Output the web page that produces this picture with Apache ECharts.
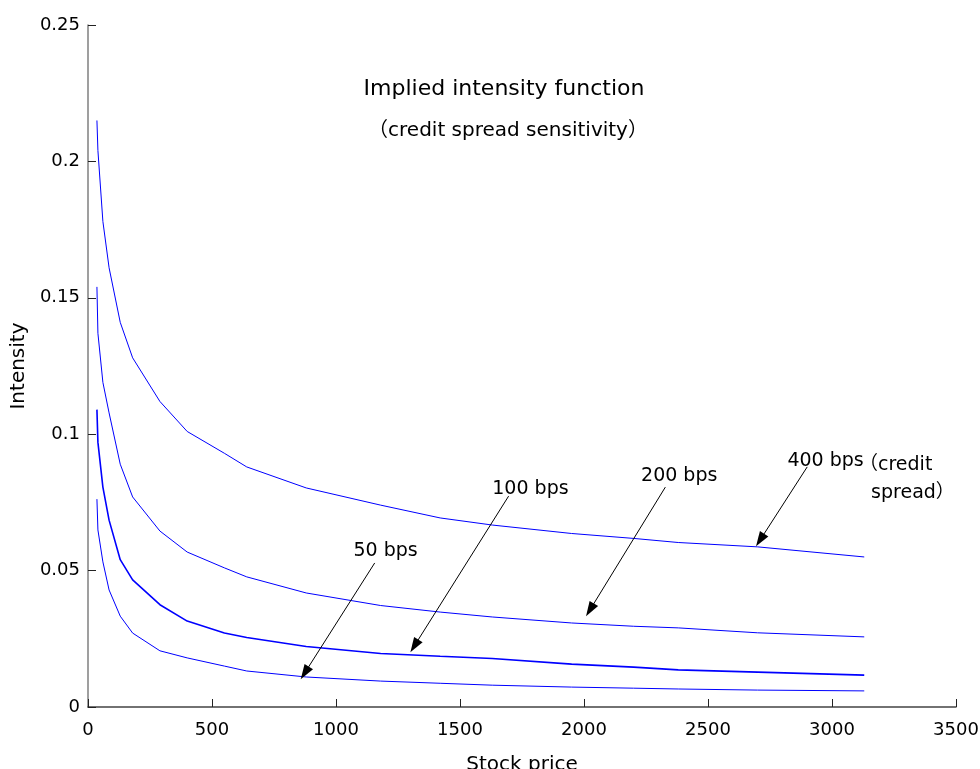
<!DOCTYPE html>
<html>
<head>
<meta charset="utf-8">
<script src="https://cdn.jsdelivr.net/npm/echarts@6/dist/echarts.min.js"></script>
<style>
  html, body { margin: 0; padding: 0; background: #fff; }
  #chart { width: 980px; height: 769px; }
</style>
</head>
<body>
<div id="chart"></div>
<script>
// stock price grid and the four intensity curves
var stockPrice = [36, 40, 60, 85, 130, 180, 290, 400, 550, 640, 880, 1180, 1420, 1630, 1950, 2200, 2380, 2700, 3130];
var bps400 = [0.215, 0.204, 0.178, 0.161, 0.141, 0.128, 0.112, 0.101, 0.093, 0.088, 0.0803, 0.074, 0.0693, 0.0667, 0.0636, 0.0618, 0.0603, 0.0587, 0.055];
var bps200 = [0.154, 0.137, 0.119, 0.1078, 0.089, 0.077, 0.0645, 0.0568, 0.051, 0.0477, 0.0418, 0.0372, 0.0348, 0.0330, 0.0308, 0.0296, 0.0290, 0.0272, 0.0257];
var bps100 = [0.109, 0.097, 0.0806, 0.0685, 0.054, 0.0466, 0.0375, 0.0315, 0.0271, 0.0255, 0.0222, 0.0196, 0.0186, 0.0178, 0.0157, 0.0146, 0.0136, 0.0128, 0.0117];
var bps50 = [0.0762, 0.0649, 0.0532, 0.0429, 0.0333, 0.0271, 0.0206, 0.018, 0.015, 0.0132, 0.011, 0.0095, 0.0087, 0.008, 0.0073, 0.0069, 0.0066, 0.0062, 0.0059];

// annotation: label position, arrow start, arrow end (data units)
var labels = ['50 bps', '100 bps', '200 bps', '400 bps'];
var labelAt = [[1200, 0.0572], [1784, 0.0799], [2384, 0.0847], [2974, 0.0902]];
var arrowFrom = [[1156, 0.0528], [1696, 0.0773], [2328, 0.0806], [2900, 0.088]];
var arrowTo = [[874, 0.0125], [1316, 0.0224], [2024, 0.0356], [2710, 0.0612]];

var font = "'DejaVu Sans', 'Noto Sans CJK JP', sans-serif";

function pairs(ys) {
    var out = [];
    for (var i = 0; i < stockPrice.length; i++) out.push([stockPrice[i], ys[i]]);
    return out;
}

function curve(name, ys, idx, width) {
    return {
        name: name,
        type: 'line',
        data: pairs(ys),
        showSymbol: false,
        lineStyle: {color: '#0000ff', width: width},
        emphasis: {disabled: true},
        markLine: {
            silent: true,
            symbol: ['none', 'triangle'],
            symbolSize: [10, 15],
            label: {show: false},
            lineStyle: {color: '#000', width: 1, type: 'solid'},
            itemStyle: {color: '#000'},
            data: [[{coord: arrowFrom[idx]}, {coord: arrowTo[idx]}]]
        },
        markPoint: {
            silent: true,
            symbolSize: 0,
            label: {
                show: true, position: 'inside', color: '#000',
                fontFamily: font, fontSize: 19,
                formatter: labels[idx]
            },
            data: [{coord: labelAt[idx]}]
        }
    };
}

var series = [
    curve('50 bps', bps50, 0, 1),
    curve('100 bps', bps100, 1, 1.6),
    curve('200 bps', bps200, 2, 1),
    curve('400 bps', bps400, 3, 1)
];
// "(credit spread)" note next to the 400 bps label
series[3].markPoint.data.push({
    coord: [3109, 0.0939],
    label: {
        show: true, position: 'inside', align: 'left', verticalAlign: 'top',
        color: '#000', fontFamily: font, fontSize: 19, lineHeight: 28,
        formatter: '（credit\n  spread）'
    }
});

var myChart = echarts.init(document.getElementById('chart'));
myChart.setOption({
    animation: false,
    backgroundColor: '#fff',
    grid: {left: 88, right: 24, top: 25, bottom: 62, containLabel: false, outerBoundsMode: 'none'},
    graphic: [
        {type: 'text', x: 504, y: 89, style: {text: 'Implied intensity function', fontFamily: font, fontSize: 22, fill: '#000', align: 'center', verticalAlign: 'middle'}},
        {type: 'text', x: 508, y: 131, style: {text: '（credit spread sensitivity）', fontFamily: font, fontSize: 20, fill: '#000', align: 'center', verticalAlign: 'middle'}}
    ],
    xAxis: {
        type: 'value', min: 0, max: 3500, interval: 500,
        name: 'Stock price', nameLocation: 'middle', nameGap: 48,
        nameTextStyle: {fontFamily: font, fontSize: 20, color: '#000'},
        axisLine: {onZero: false, lineStyle: {color: '#444', width: 1.5}},
        axisTick: {inside: true, length: 8, lineStyle: {color: '#222'}},
        axisLabel: {fontFamily: font, fontSize: 18, color: '#000', margin: 14, formatter: function (v) { return String(v); }},
        splitLine: {show: false}
    },
    yAxis: {
        type: 'value', min: 0, max: 0.25, interval: 0.05,
        name: 'Intensity', nameLocation: 'middle', nameGap: 57,
        nameTextStyle: {fontFamily: font, fontSize: 20, color: '#000'},
        axisLine: {show: true, lineStyle: {color: '#7f7f7f', width: 1.5}},
        axisTick: {show: true, inside: true, length: 8, lineStyle: {color: '#222'}},
        axisLabel: {fontFamily: font, fontSize: 18, color: '#000', margin: 8},
        splitLine: {show: false}
    },
    series: series
});
window.onresize = function () {
    myChart.resize();
};
</script>
</body>
</html>
